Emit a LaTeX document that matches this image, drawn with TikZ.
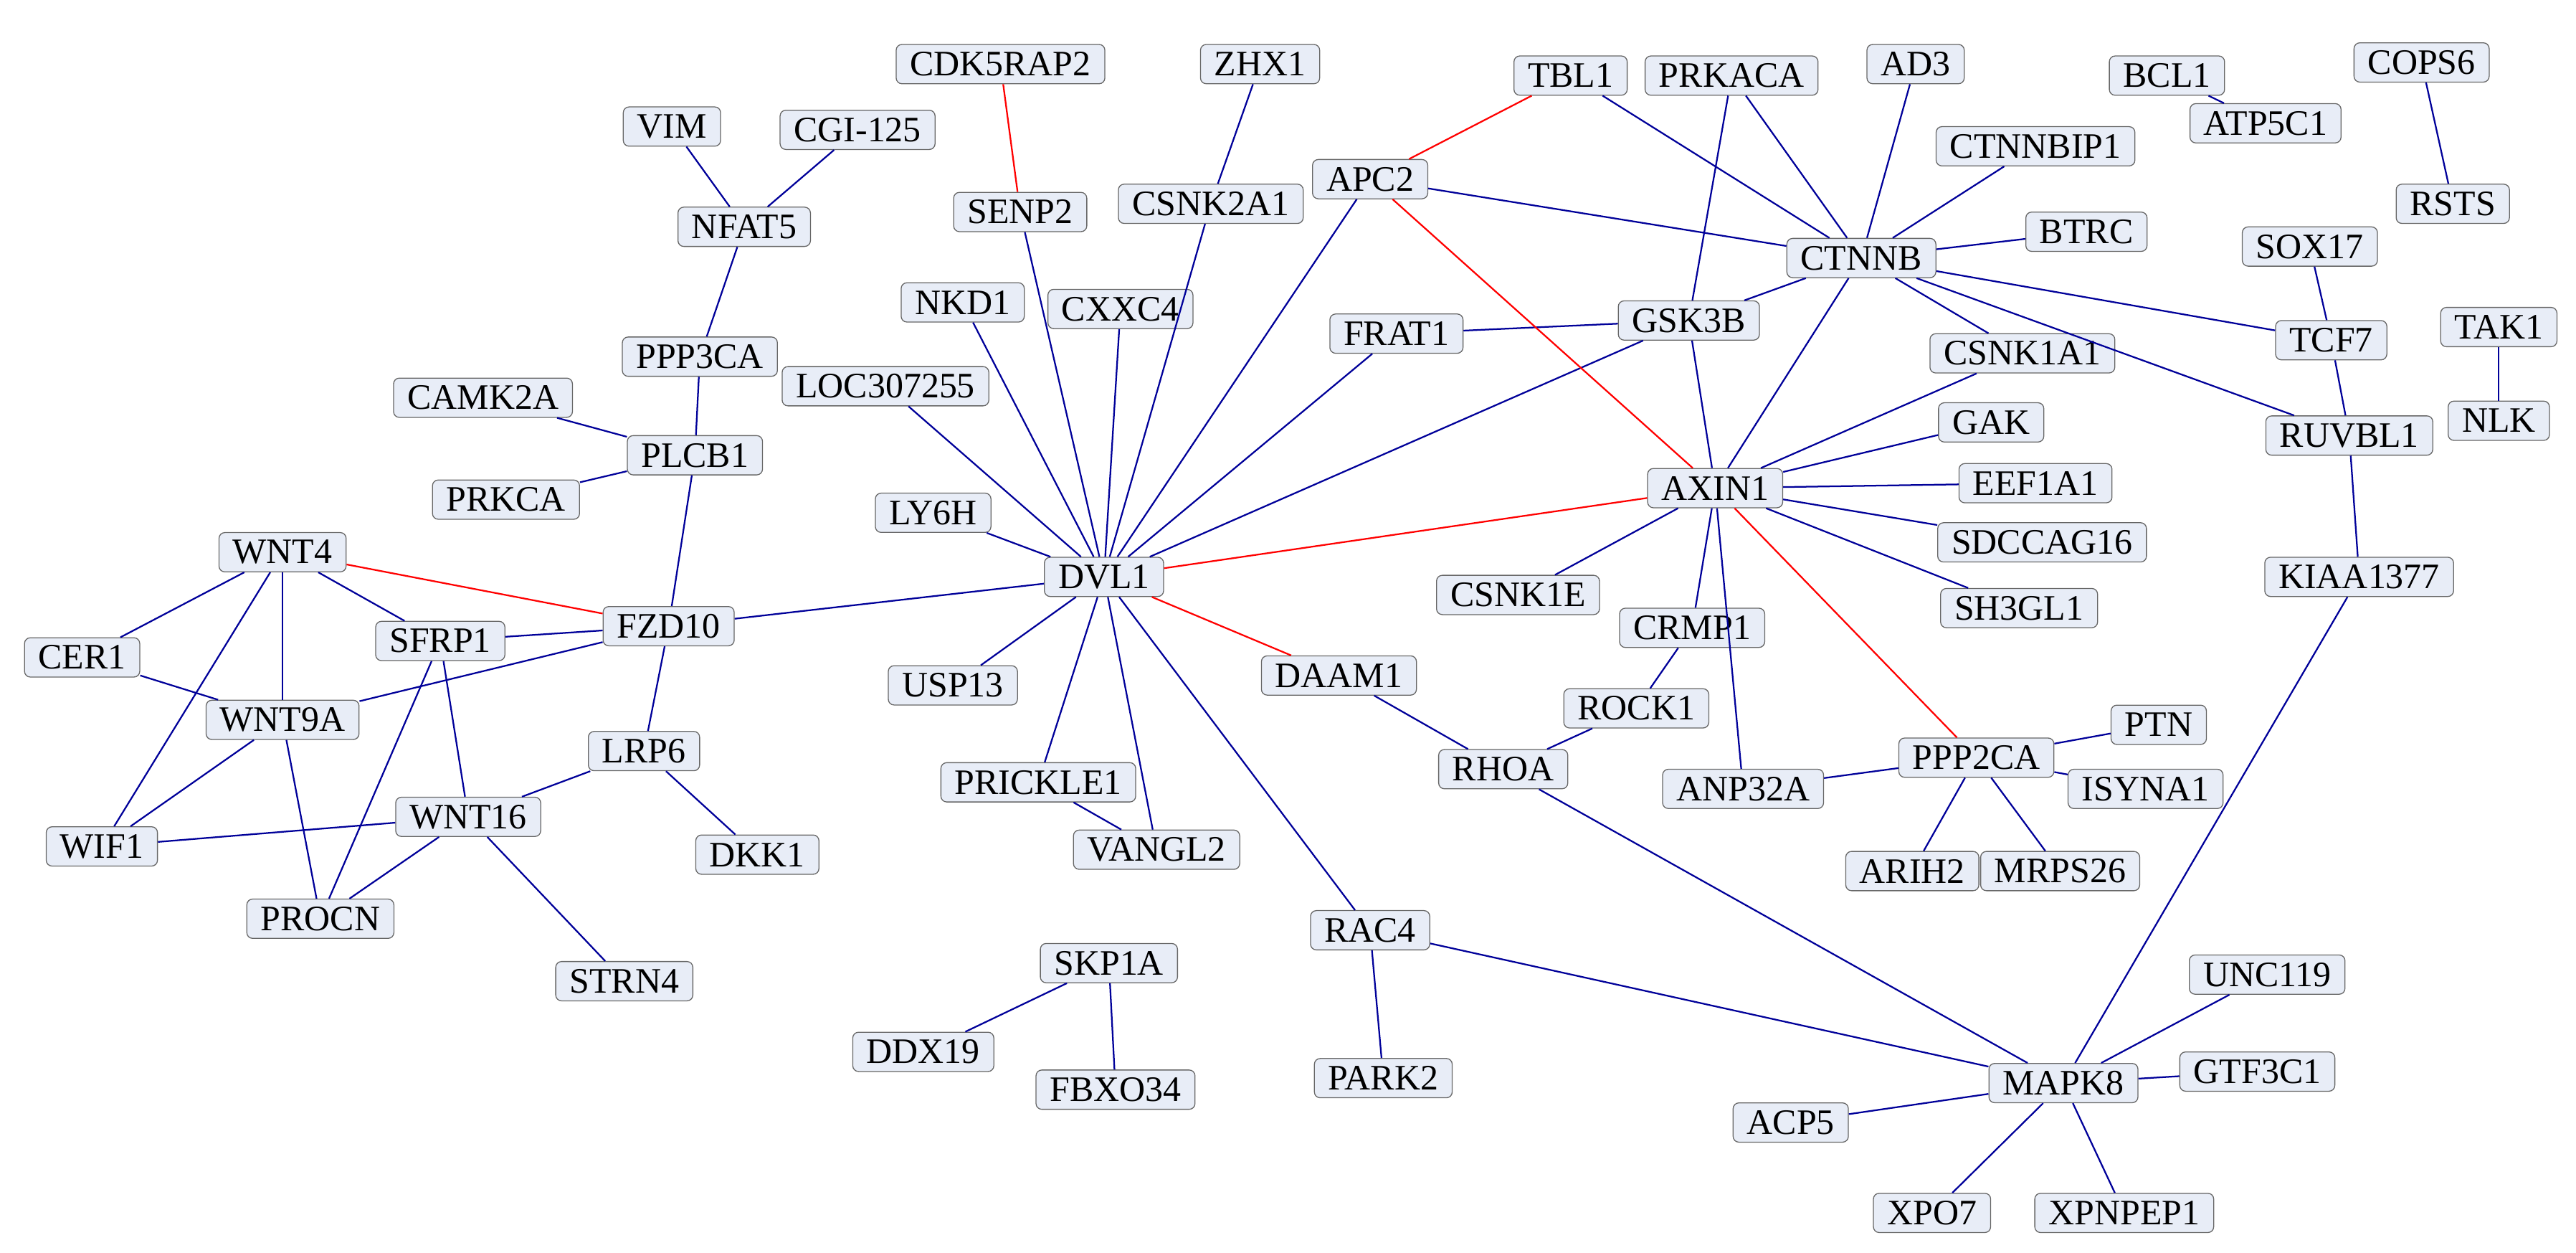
\documentclass[tikz,border=0pt]{standalone}
\usepackage{fontspec}
\setmainfont{Liberation Serif}
\definecolor{nf}{RGB}{232,237,247}
\begin{document}
\begin{tikzpicture}[x=0.05cm,y=-0.05cm,
 n/.style={draw=black!60,fill=nf,rounded corners=5pt,font=\fontsize{31}{31}\selectfont,inner xsep=12pt,inner ysep=1pt,minimum height=34pt,line width=0.8pt},
 b/.style={draw=blue!60!black,line width=1.4pt},
 r/.style={draw=red,line width=1.4pt}]
\useasboundingbox (0,0) rectangle (1568,762);
\begin{scope}[]
\foreach \a/\c in {ZHX1/CSNK2A1,TBL1/CTNNB,PRKACA/CTNNB,PRKACA/GSK3B,AD3/CTNNB,BCL1/ATP5C1,COPS6/RSTS,VIM/NFAT5,CGI-125/NFAT5,CTNNBIP1/CTNNB,APC2/CTNNB,APC2/DVL1,SENP2/DVL1,CSNK2A1/DVL1,NFAT5/PPP3CA,BTRC/CTNNB,CTNNB/TCF7,CTNNB/RUVBL1,CTNNB/GSK3B,CTNNB/AXIN1,CTNNB/CSNK1A1,SOX17/TCF7,NKD1/DVL1,CXXC4/DVL1,FRAT1/GSK3B,FRAT1/DVL1,GSK3B/DVL1,GSK3B/AXIN1,TCF7/RUVBL1,TAK1/NLK,PPP3CA/PLCB1,CSNK1A1/AXIN1,LOC307255/DVL1,CAMK2A/PLCB1,PLCB1/FZD10,GAK/AXIN1,RUVBL1/KIAA1377,AXIN1/EEF1A1,AXIN1/SDCCAG16,AXIN1/SH3GL1,AXIN1/CSNK1E,AXIN1/CRMP1,AXIN1/ANP32A,PRKCA/PLCB1,LY6H/DVL1,WNT4/CER1,WNT4/WNT9A,WNT4/SFRP1,WNT4/WIF1,DVL1/FZD10,DVL1/USP13,DVL1/PRICKLE1,DVL1/VANGL2,DVL1/RAC4,KIAA1377/MAPK8,CRMP1/ROCK1,FZD10/SFRP1,FZD10/WNT9A,FZD10/LRP6,SFRP1/WNT16,SFRP1/PROCN,WNT9A/PROCN,WNT9A/WIF1,CER1/WNT9A,WNT16/WIF1,WNT16/LRP6,WNT16/PROCN,WNT16/STRN4,DAAM1/RHOA,ROCK1/RHOA,RHOA/MAPK8,PTN/PPP2CA,ISYNA1/PPP2CA,PPP2CA/ANP32A,PPP2CA/ARIH2,PPP2CA/MRPS26,LRP6/DKK1,PRICKLE1/VANGL2,RAC4/PARK2,RAC4/MAPK8,SKP1A/DDX19,SKP1A/FBXO34,MAPK8/UNC119,MAPK8/GTF3C1,MAPK8/ACP5,MAPK8/XPO7,MAPK8/XPNPEP1}
 {}
\end{scope}
\foreach \nm/\x/\y in {CDK5RAP2/609/39,ZHX1/767/39,TBL1/956/46,PRKACA/1054/46,AD3/1166/39,BCL1/1319/46,COPS6/1474/38,VIM/409/77,CGI-125/522/79,ATP5C1/1379/75,CTNNBIP1/1239/89,APC2/834/109,SENP2/621/129,CSNK2A1/737/124,NFAT5/453/138,RSTS/1493/124,BTRC/1270/141,CTNNB/1133/157,SOX17/1406/150,NKD1/586/184,CXXC4/682/188,FRAT1/850/203,GSK3B/1028/195,TCF7/1419/207,TAK1/1521/199,PPP3CA/426/217,CSNK1A1/1231/215,LOC307255/539/235,CAMK2A/294/242,PLCB1/423/277,GAK/1212/257,NLK/1521/256,RUVBL1/1430/265,AXIN1/1044/297,EEF1A1/1239/294,PRKCA/308/304,LY6H/568/312,SDCCAG16/1243/330,WNT4/172/336,DVL1/672/351,KIAA1377/1436/351,CSNK1E/924/362,SH3GL1/1229/370,CRMP1/1030/382,FZD10/407/381,SFRP1/268/390,CER1/50/400,USP13/580/417,DAAM1/815/411,ROCK1/996/431,WNT9A/172/438,PTN/1314/441,LRP6/392/457,PPP2CA/1203/461,RHOA/915/468,PRICKLE1/632/476,ANP32A/1061/480,ISYNA1/1306/480,WNT16/285/497,WIF1/62/515,DKK1/461/520,VANGL2/704/517,ARIH2/1164/530,MRPS26/1254/530,PROCN/195/559,RAC4/834/566,SKP1A/675/586,STRN4/380/597,UNC119/1380/593,DDX19/562/640,GTF3C1/1374/652,PARK2/842/656,MAPK8/1256/659,FBXO34/679/663,ACP5/1090/683,XPO7/1176/738,XPNPEP1/1293/738}
 \node[n] (\nm) at (\x,\y) {\nm};
\foreach \a/\c in {ZHX1/CSNK2A1,TBL1/CTNNB,PRKACA/CTNNB,PRKACA/GSK3B,AD3/CTNNB,BCL1/ATP5C1,COPS6/RSTS,VIM/NFAT5,CGI-125/NFAT5,CTNNBIP1/CTNNB,APC2/CTNNB,APC2/DVL1,SENP2/DVL1,CSNK2A1/DVL1,NFAT5/PPP3CA,BTRC/CTNNB,CTNNB/TCF7,CTNNB/RUVBL1,CTNNB/GSK3B,CTNNB/AXIN1,CTNNB/CSNK1A1,SOX17/TCF7,NKD1/DVL1,CXXC4/DVL1,FRAT1/GSK3B,FRAT1/DVL1,GSK3B/DVL1,GSK3B/AXIN1,TCF7/RUVBL1,TAK1/NLK,PPP3CA/PLCB1,CSNK1A1/AXIN1,LOC307255/DVL1,CAMK2A/PLCB1,PLCB1/FZD10,GAK/AXIN1,RUVBL1/KIAA1377,AXIN1/EEF1A1,AXIN1/SDCCAG16,AXIN1/SH3GL1,AXIN1/CSNK1E,AXIN1/CRMP1,AXIN1/ANP32A,PRKCA/PLCB1,LY6H/DVL1,WNT4/CER1,WNT4/WNT9A,WNT4/SFRP1,WNT4/WIF1,DVL1/FZD10,DVL1/USP13,DVL1/PRICKLE1,DVL1/VANGL2,DVL1/RAC4,KIAA1377/MAPK8,CRMP1/ROCK1,FZD10/SFRP1,FZD10/WNT9A,FZD10/LRP6,SFRP1/WNT16,SFRP1/PROCN,WNT9A/PROCN,WNT9A/WIF1,CER1/WNT9A,WNT16/WIF1,WNT16/LRP6,WNT16/PROCN,WNT16/STRN4,DAAM1/RHOA,ROCK1/RHOA,RHOA/MAPK8,PTN/PPP2CA,ISYNA1/PPP2CA,PPP2CA/ANP32A,PPP2CA/ARIH2,PPP2CA/MRPS26,LRP6/DKK1,PRICKLE1/VANGL2,RAC4/PARK2,RAC4/MAPK8,SKP1A/DDX19,SKP1A/FBXO34,MAPK8/UNC119,MAPK8/GTF3C1,MAPK8/ACP5,MAPK8/XPO7,MAPK8/XPNPEP1}
 \draw[b] (\a) -- (\c);
\foreach \a/\c in {CDK5RAP2/SENP2,TBL1/APC2,APC2/AXIN1,AXIN1/DVL1,AXIN1/PPP2CA,WNT4/FZD10,DVL1/DAAM1}
 \draw[r] (\a) -- (\c);
\end{tikzpicture}
\end{document}
